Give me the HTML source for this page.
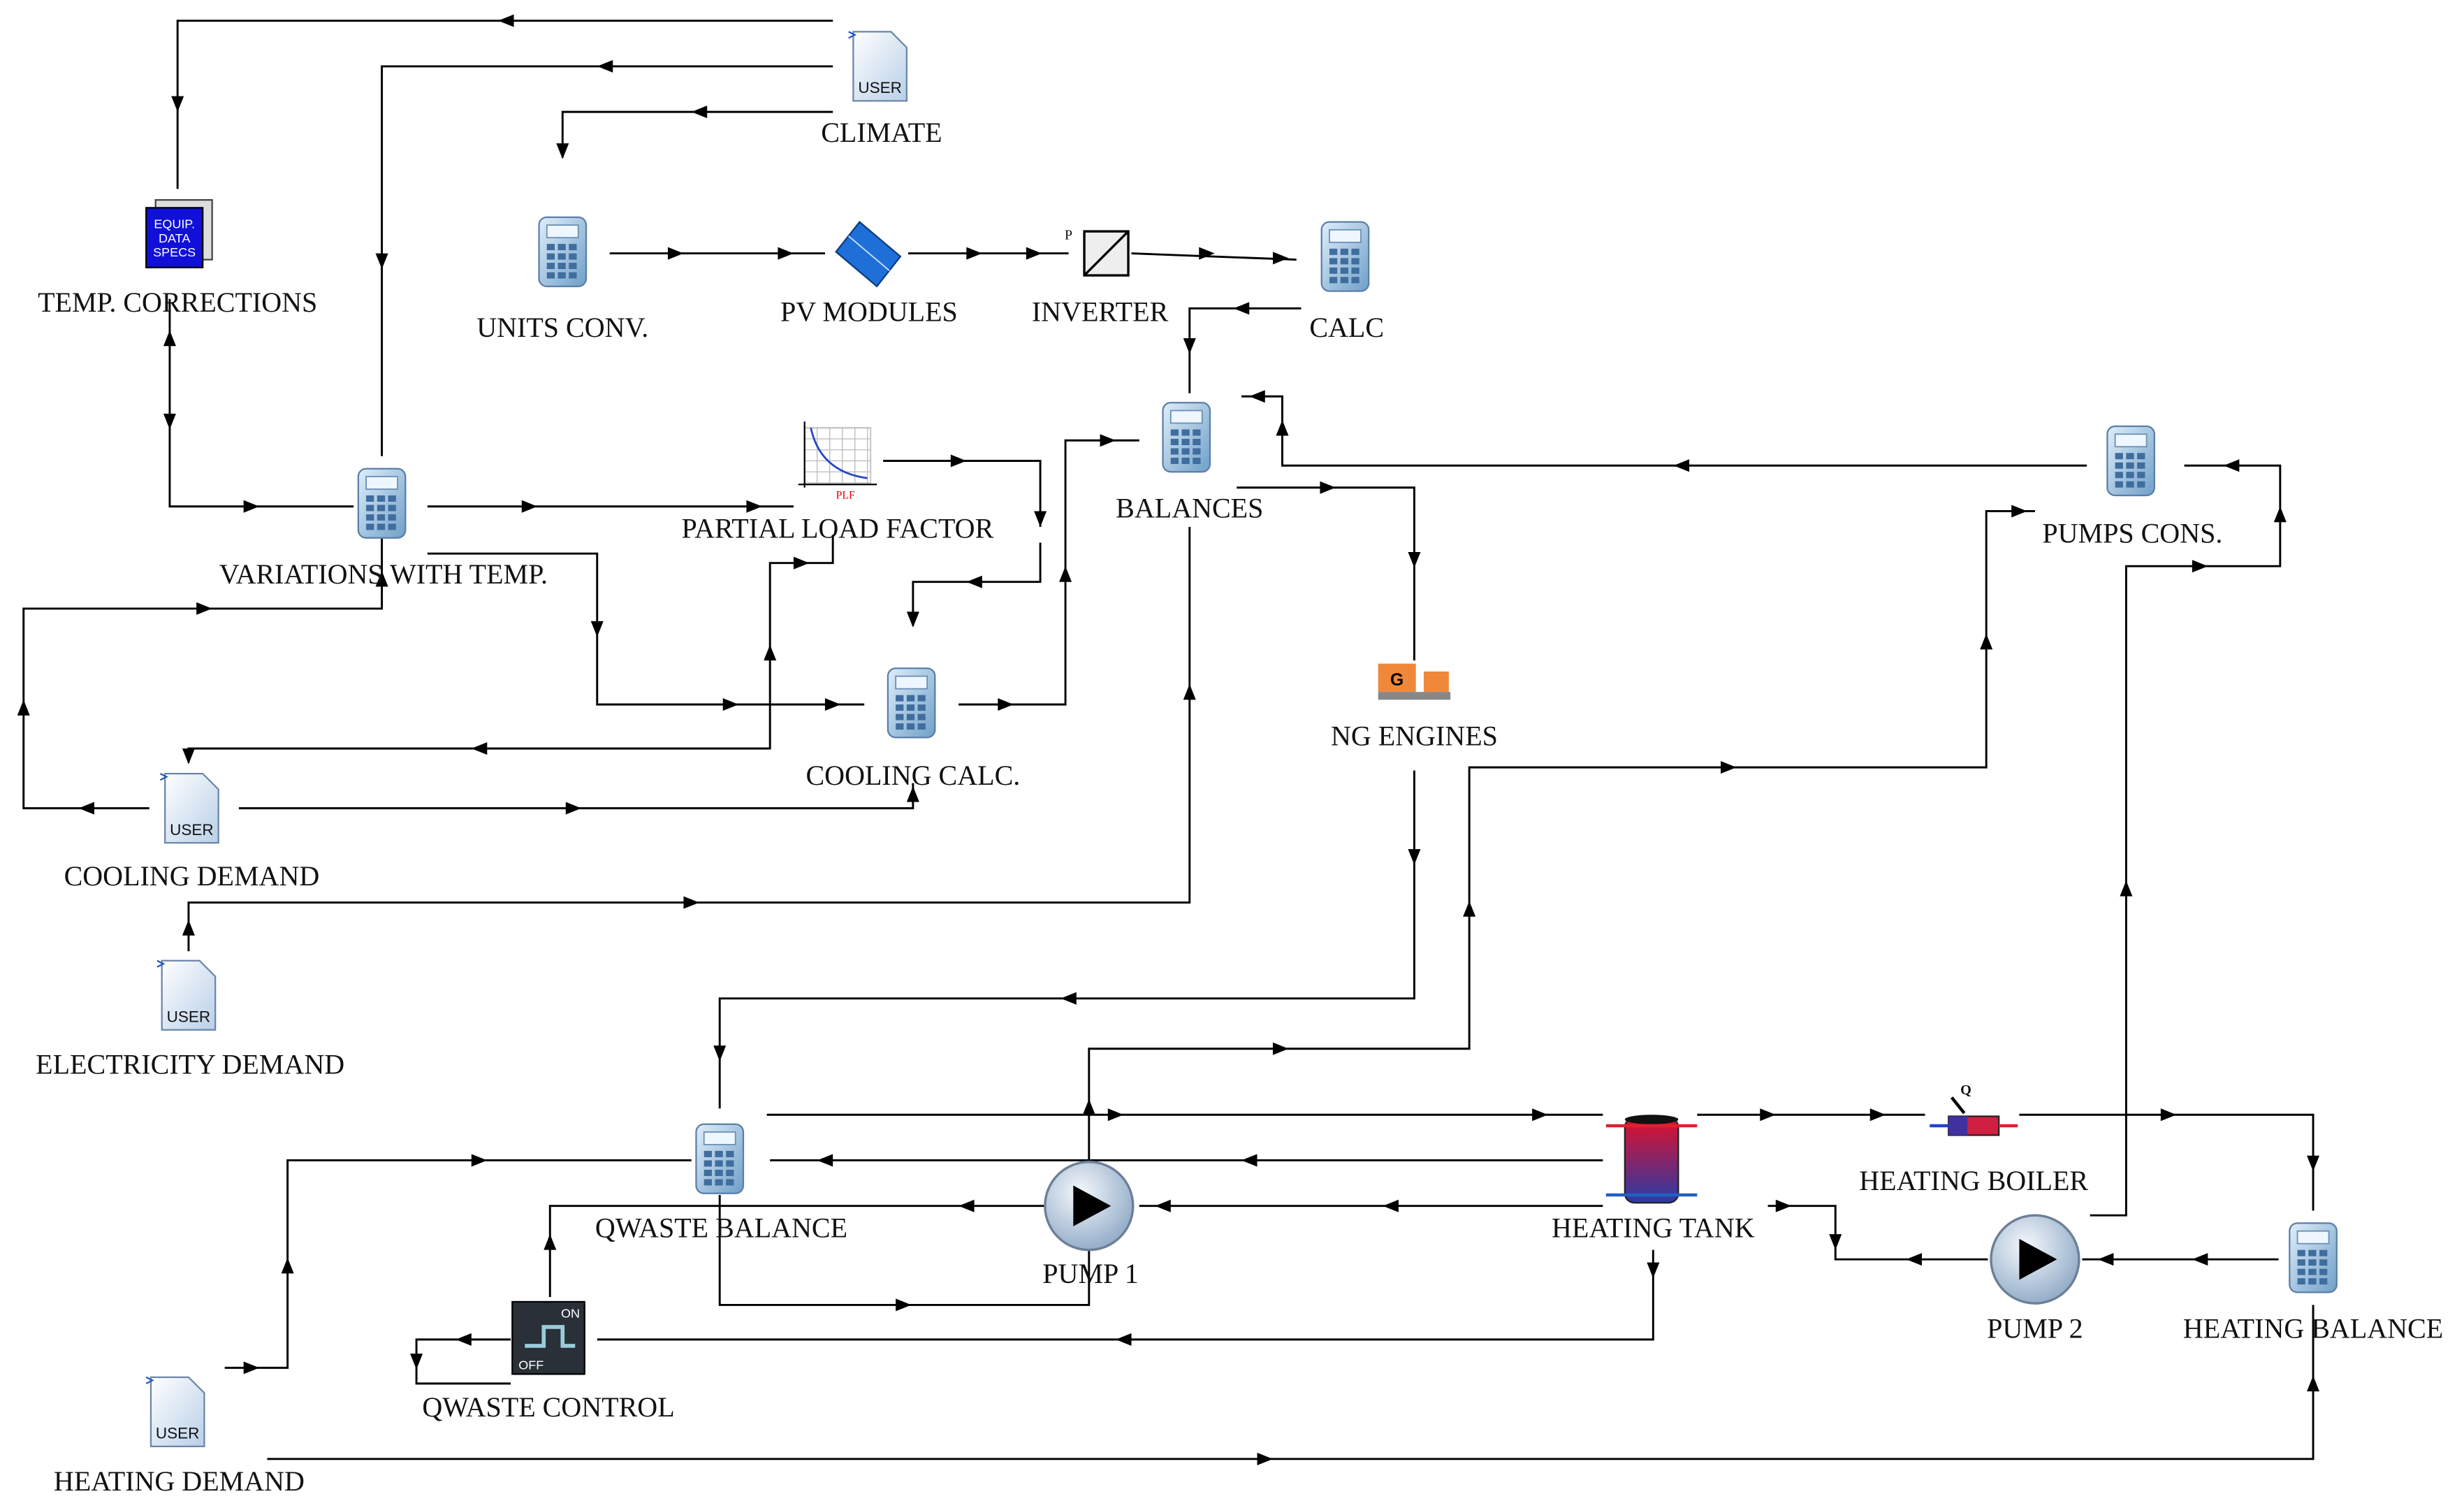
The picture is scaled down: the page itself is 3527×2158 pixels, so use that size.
<!DOCTYPE html>
<html><head><meta charset="utf-8"><style>
html,body{margin:0;padding:0;background:#fff;}
svg{display:block;}
text{font-family:"Liberation Serif",serif;font-size:17.8px;fill:#111;text-anchor:middle;}
</style></head><body>
<svg id="s" width="3527" height="2158" viewBox="0 0 1568 959" xmlns="http://www.w3.org/2000/svg">
<defs>
<linearGradient id="calc" x1="0" y1="0" x2="1" y2="1"><stop offset="0" stop-color="#dfeefa"/><stop offset="1" stop-color="#6f9fc8"/></linearGradient>
<radialGradient id="pump" cx="0.4" cy="0.35" r="0.7"><stop offset="0" stop-color="#f4f8fc"/><stop offset="1" stop-color="#8fa9c6"/></radialGradient>
<linearGradient id="tank" x1="0" y1="0" x2="0" y2="1"><stop offset="0" stop-color="#e0102a"/><stop offset="1" stop-color="#2a3aa8"/></linearGradient>
<linearGradient id="doc" x1="0" y1="0" x2="1" y2="1"><stop offset="0" stop-color="#ffffff"/><stop offset="1" stop-color="#b8cfe8"/></linearGradient>
</defs>
<g id="lines" fill="none" stroke="#000" stroke-width="1.3"></g>
<g id="arrows" fill="#000"></g>
<g id="icons"></g>
<g>
<text x="561" y="90">CLIMATE</text>
<text x="113" y="198">TEMP. CORRECTIONS</text>
<text x="358" y="214">UNITS CONV.</text>
<text x="553" y="204">PV MODULES</text>
<text x="700" y="204">INVERTER</text>
<text x="857" y="214">CALC</text>
<text x="244" y="371">VARIATIONS WITH TEMP.</text>
<text x="533" y="342">PARTIAL LOAD FACTOR</text>
<text x="757" y="329">BALANCES</text>
<text x="1357" y="345">PUMPS CONS.</text>
<text x="581" y="499">COOLING CALC.</text>
<text x="900" y="474">NG ENGINES</text>
<text x="122" y="563">COOLING DEMAND</text>
<text x="121" y="683">ELECTRICITY DEMAND</text>
<text x="459" y="787">QWASTE BALANCE</text>
<text x="694" y="816">PUMP 1</text>
<text x="1052" y="787">HEATING TANK</text>
<text x="1256" y="757">HEATING BOILER</text>
<text x="1295" y="851">PUMP 2</text>
<text x="1472" y="851">HEATING BALANCE</text>
<text x="349" y="901">QWASTE CONTROL</text>
<text x="114" y="948">HEATING DEMAND</text>
</g>
</svg>
<script>
var NS="http://www.w3.org/2000/svg";
function el(p,t,a){var e=document.createElementNS(NS,t);for(var k in a)e.setAttribute(k,a[k]);document.getElementById(p).appendChild(e);return e;}
function L(pts){el("lines","polyline",{points:pts});}
function A(x,y,d){var s=5,w=4,p;
if(d=="r")p=[x+s,y,x-s,y-w,x-s,y+w];
if(d=="l")p=[x-s,y,x+s,y-w,x+s,y+w];
if(d=="d")p=[x,y+s,x-w,y-s,x+w,y-s];
if(d=="u")p=[x,y-s,x-w,y+s,x+w,y+s];
el("arrows","polygon",{points:p.join(" ")});}
L("530,13 113,13 113,120");A(322,13,"l");A(113,66,"d");
L("530,42 243,42 243,290");A(385,42,"l");A(243,166,"d");
L("530,71 358,71 358,100");A(445,71,"l");A(358,96,"d");
L("388,161 525,161");A(430,161,"r");A(500,161,"r");
L("578,161 680,161");A(620,161,"r");A(658,161,"r");
L("720,161 825,165");A(768,161,"r");A(815,164,"r");
L("828,196 757,196 757,250");A(790,196,"l");A(757,220,"d");
L("108,190 108,322 225,322");A(108,215,"u");A(108,268,"d");A(160,322,"r");
L("272,322 505,322");A(337,322,"r");A(480,322,"r");
L("272,352 380,352 380,448 550,448");A(380,400,"d");A(465,448,"r");A(530,448,"r");
L("243,340 243,387 15,387 15,514 95,514");A(243,368,"u");A(130,387,"r");A(15,450,"u");A(55,514,"l");
L("562,293 662,293 662,335");A(610,293,"r");A(662,330,"d");
L("662,345 662,370 581,370 581,398");A(620,370,"l");A(581,394,"d");
L("610,448 678,448 678,280 725,280");A(640,448,"r");A(678,365,"u");A(705,280,"r");
L("120,485 120,476 490,476 490,358 530,358 530,340");A(490,415,"u");A(510,358,"r");A(305,476,"l");A(120,481,"d");
L("152,514 581,514 581,498");A(365,514,"r");A(581,505,"u");
L("120,605 120,574 757,574 757,335");A(120,590,"u");A(440,574,"r");A(757,440,"u");
L("787,310 900,310 900,420");A(845,310,"r");A(900,356,"d");
L("1328,296 816,296 816,252 790,252");A(1070,296,"l");A(816,272,"u");A(800,252,"l");
L("900,490 900,635 458,635 458,705");A(900,545,"d");A(680,635,"l");A(458,670,"d");
L("693,740 693,667 935,667 935,488 1264,488 1264,325 1295,325");A(815,667,"r");A(935,578,"u");A(1100,488,"r");A(1264,408,"u");A(1285,325,"r");
L("1390,296 1451,296 1451,360 1353,360 1353,773 1330,773");A(1420,296,"l");A(1451,327,"u");A(1400,360,"r");A(1353,565,"u");
L("488,709 1020,709");A(710,709,"r");A(980,709,"r");
L("1080,709 1225,709");A(1125,709,"r");A(1195,709,"r");
L("1285,709 1472,709 1472,770");A(1380,709,"r");A(1472,740,"d");
L("1020,738 490,738");A(795,738,"l");A(525,738,"l");
L("1020,767 725,767");A(885,767,"l");A(740,767,"l");
L("665,767 350,767 350,825");A(615,767,"l");A(350,790,"u");
L("458,760 458,830 693,830 693,795");A(575,830,"r");A(693,704,"u");
L("1052,795 1052,852 380,852");A(1052,808,"d");A(715,852,"l");
L("325,852 265,852 265,880 325,880");A(295,852,"l");A(265,866,"d");
L("1125,767 1168,767 1168,801 1265,801");A(1135,767,"r");A(1168,790,"d");A(1218,801,"l");
L("1325,801 1450,801");A(1340,801,"l");A(1400,801,"l");
L("143,870 183,870 183,738 440,738");A(160,870,"r");A(183,805,"u");A(305,738,"r");
L("170,928 1472,928 1472,830");A(805,928,"r");A(1472,880,"u");
function calc(x,y){el("icons","rect",{x:x-15,y:y-22,width:30,height:44,rx:5,fill:"url(#calc)",stroke:"#5a7fa8","stroke-width":1});
el("icons","rect",{x:x-10,y:y-17,width:20,height:8,fill:"#eef6ff",stroke:"#6c8fb5","stroke-width":0.8});
for(var i=0;i<3;i++)for(var j=0;j<4;j++)el("icons","rect",{x:x-10+i*7,y:y-5+j*6,width:5,height:4,fill:"#3f6d9e"});}
function doc(x,y){el("icons","path",{d:"M"+(x-17)+","+(y-22)+" h24 l10,10 v34 h-34 z",fill:"url(#doc)",stroke:"#6b86a8","stroke-width":1});
el("icons","path",{d:"M"+(x-20)+","+(y-22)+" l4,2 l-4,2",stroke:"#2455c0",fill:"none"});
var t=el("icons","text",{x:x,y:y+17,style:"font-family:Liberation Sans,sans-serif;font-size:10px"});t.textContent="USER";}
function pump(x,y){el("icons","circle",{cx:x,cy:y,r:28,fill:"url(#pump)",stroke:"#6d7f96","stroke-width":1.5});
el("icons","polygon",{points:(x-10)+","+(y-13)+" "+(x+14)+","+y+" "+(x-10)+","+(y+13),fill:"#000"});}
[[358,160],[856,163],[755,278],[1356,293],[243,320],[580,447],[458,737],[1472,800]].forEach(function(p){calc(p[0],p[1]);});
[[560,42],[122,514],[120,633],[113,898]].forEach(function(p){doc(p[0],p[1]);});
pump(693,767);pump(1295,801);
el("icons","rect",{x:99,y:127,width:36,height:38,fill:"#ddd",stroke:"#444"});
el("icons","rect",{x:93,y:132,width:36,height:38,fill:"#1010d8",stroke:"#000"});
var t=el("icons","text",{x:111,y:145,style:"font-family:Liberation Sans,sans-serif;font-size:8px;fill:#fff"});t.textContent="EQUIP.";
t=el("icons","text",{x:111,y:154,style:"font-family:Liberation Sans,sans-serif;font-size:8px;fill:#fff"});t.textContent="DATA";
t=el("icons","text",{x:111,y:163,style:"font-family:Liberation Sans,sans-serif;font-size:8px;fill:#fff"});t.textContent="SPECS";
el("icons","polygon",{points:"532,160 547,141 573,163 558,182",fill:"#1f6fd8",stroke:"#0a3a80"});
el("icons","line",{x1:540,y1:150,x2:566,y2:172,stroke:"#cfe3ff","stroke-width":0.8});
el("icons","rect",{x:690,y:147,width:28,height:28,fill:"#eee",stroke:"#000","stroke-width":1.5});
el("icons","line",{x1:690,y1:175,x2:718,y2:147,stroke:"#000","stroke-width":1.5});
t=el("icons","text",{x:680,y:152,style:"font-size:9px"});t.textContent="P";
el("icons","rect",{x:512,y:272,width:42,height:36,fill:"#fff",stroke:"#ccc"});
for(var i=0;i<6;i++){el("icons","line",{x1:512+i*8,y1:272,x2:512+i*8,y2:308,stroke:"#bbb","stroke-width":0.6});el("icons","line",{x1:512,y1:272+i*7,x2:554,y2:272+i*7,stroke:"#bbb","stroke-width":0.6});}
el("icons","path",{d:"M516,272 Q522,300 552,304",fill:"none",stroke:"#2244cc","stroke-width":1.2});
el("icons","line",{x1:512,y1:268,x2:512,y2:310,stroke:"#000"});el("icons","line",{x1:508,y1:308,x2:558,y2:308,stroke:"#000"});
t=el("icons","text",{x:538,y:317,style:"font-size:7px;fill:#d00"});t.textContent="PLF";
el("icons","rect",{x:877,y:422,width:24,height:18,fill:"#f0883a"});
el("icons","rect",{x:906,y:427,width:16,height:13,fill:"#f0883a"});
el("icons","rect",{x:877,y:440,width:46,height:5,fill:"#888"});
t=el("icons","text",{x:889,y:436,style:"font-family:Liberation Sans,sans-serif;font-size:11px;fill:#000;font-weight:bold"});t.textContent="G";
el("icons","rect",{x:1034,y:711,width:34,height:54,rx:6,fill:"url(#tank)",stroke:"#222"});
el("icons","ellipse",{cx:1051,cy:712,rx:17,ry:3,fill:"#111"});
el("icons","line",{x1:1022,y1:716,x2:1080,y2:716,stroke:"#e02030","stroke-width":2});
el("icons","line",{x1:1022,y1:760,x2:1080,y2:760,stroke:"#2060c0","stroke-width":2});
el("icons","rect",{x:1240,y:710,width:32,height:12,fill:"#d02040",stroke:"#222"});
el("icons","rect",{x:1240,y:710,width:12,height:12,fill:"#4030a0"});
el("icons","line",{x1:1228,y1:716,x2:1240,y2:716,stroke:"#2040d0","stroke-width":2});
el("icons","line",{x1:1272,y1:716,x2:1284,y2:716,stroke:"#e02030","stroke-width":2});
el("icons","line",{x1:1242,y1:698,x2:1250,y2:708,stroke:"#000","stroke-width":2});
t=el("icons","text",{x:1251,y:696,style:"font-size:9px;font-weight:bold"});t.textContent="Q";
el("icons","rect",{x:326,y:828,width:46,height:46,fill:"#2a3038",stroke:"#000"});
el("icons","path",{d:"M334,856 h12 v-12 h12 v12 h8",fill:"none",stroke:"#9cd","stroke-width":2.5});
t=el("icons","text",{x:363,y:838,style:"font-family:Liberation Sans,sans-serif;font-size:8px;fill:#fff"});t.textContent="ON";
t=el("icons","text",{x:338,y:871,style:"font-family:Liberation Sans,sans-serif;font-size:8px;fill:#fff"});t.textContent="OFF";
</script>
</body></html>
